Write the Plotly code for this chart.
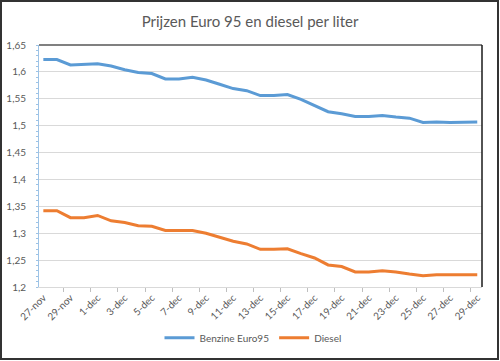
import plotly.graph_objects as go

days = ["27-nov", "28-nov", "29-nov", "30-nov"] + [f"{d}-dec" for d in range(1, 30)]

benzine = [1.623, 1.623, 1.613, 1.614, 1.615, 1.611, 1.604, 1.599, 1.597, 1.587,
           1.587, 1.590, 1.585, 1.577, 1.569, 1.565, 1.556, 1.556, 1.558, 1.549,
           1.538, 1.526, 1.522, 1.517, 1.517, 1.519, 1.516, 1.514, 1.506, 1.507,
           1.506, 1.507, 1.507]

diesel = [1.342, 1.342, 1.329, 1.329, 1.333, 1.323, 1.320, 1.314, 1.313, 1.305,
          1.305, 1.305, 1.300, 1.293, 1.285, 1.280, 1.270, 1.270, 1.271, 1.262,
          1.254, 1.241, 1.238, 1.228, 1.228, 1.230, 1.228, 1.224, 1.221, 1.223,
          1.223, 1.223, 1.223]

y_ticks = [1.2, 1.25, 1.3, 1.35, 1.4, 1.45, 1.5, 1.55, 1.6, 1.65]
y_ticktext = ["1,2", "1,25", "1,3", "1,35", "1,4", "1,45", "1,5", "1,55", "1,6", "1,65"]
x_ticks = days[::2]

W, H = 500, 361
L, R, T, B = 39, 482, 45, 287.3
pw, ph = R - L, B - T

def px(x):
    return (x - L) / pw

def py(y):
    return (B - y) / ph

fig = go.Figure()
fig.add_trace(go.Scatter(x=days, y=benzine, mode="lines", name="Benzine Euro95",
                         line=dict(color="#5B9BD5", width=3)))
fig.add_trace(go.Scatter(x=days, y=diesel, mode="lines", name="Diesel",
                         line=dict(color="#ED7D31", width=3)))

grey = "#595959"
fig.update_layout(
    width=W, height=H,
    margin=dict(l=L, r=W - R, t=T, b=H - B, autoexpand=False),
    paper_bgcolor="white", plot_bgcolor="white",
    font=dict(family="Lato, Carlito, Arial", color=grey, size=10),
    title=dict(text="Prijzen Euro 95 en diesel per liter", x=0.5, xanchor="center",
               xref="container", y=1 - 22 / H, yanchor="middle",
               font=dict(size=15, color=grey)),
    showlegend=True,
    legend=dict(orientation="h", x=px(253), xanchor="center", y=py(338), yanchor="middle",
                font=dict(size=10, color=grey), itemwidth=30),
    xaxis=dict(type="category", range=[-0.32, 32.35], tickmode="array", tickvals=x_ticks,
               ticktext=x_ticks, tickangle=-45, showgrid=False, ticks="outside", ticklen=4,
               tickcolor="#bfbfbf", tickson="boundaries", showline=True, linecolor="#d9d9d9",
               linewidth=1, automargin=False, tickfont=dict(size=10, color=grey)),
    yaxis=dict(range=[1.2, 1.65], tickmode="array", tickvals=y_ticks, ticktext=y_ticktext,
               showgrid=True, gridcolor="#d9d9d9", gridwidth=1, showline=True,
               linecolor="#9DC3E6", linewidth=1, ticks="", ticklabelstandoff=10,
               automargin=False,
               minor=dict(ticks="outside", dtick=0.01, ticklen=2, tickcolor="#9DC3E6",
                          showgrid=False),
               zeroline=False, tickfont=dict(size=10, color=grey)),
    shapes=[
        dict(type="line", xref="paper", yref="paper", x0=0, x1=1, y0=1, y1=1,
             line=dict(color="#808080", width=2)),
        dict(type="line", xref="paper", yref="paper", x0=1, x1=1, y0=0, y1=1,
             line=dict(color="#1a1a1a", width=1.5)),
        dict(type="rect", xref="paper", yref="paper", x0=px(1), x1=px(498), y0=py(359.5), y1=py(1),
             line=dict(color="#333333", width=2), fillcolor="rgba(0,0,0,0)", layer="above"),
    ],
)

fig.write_html("out.html", config={"displayModeBar": False},
               post_script="document.body.style.margin='0';document.body.style.overflow='hidden';")
